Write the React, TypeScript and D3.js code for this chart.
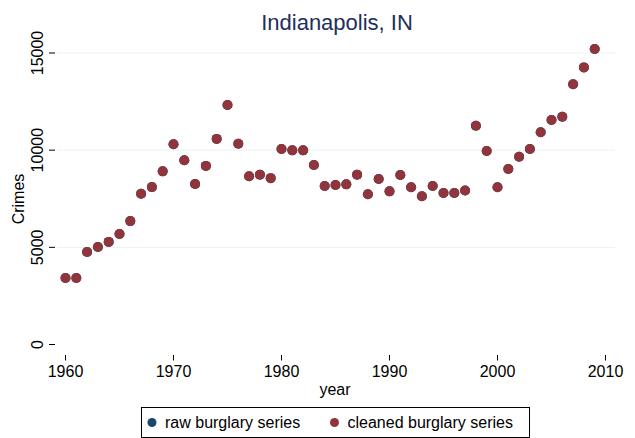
import * as React from 'react';
import {useEffect, useRef} from 'react';
import * as d3 from 'd3';

const years = d3.range(1960, 2010);
const cleanedBurglary = [
  3420, 3420, 4760, 5020, 5280, 5690, 6350, 7760, 8100, 8910,
  10300, 9480, 8260, 9190, 10580, 12320, 10330, 8660, 8740, 8560,
  10060, 9990, 9990, 9240, 8160, 8210, 8240, 8740, 7730, 8520,
  7880, 8720, 8090, 7630, 8160, 7800, 7800, 7920, 11260, 9960,
  8090, 9030, 9660, 10060, 10920, 11550, 11720, 13390, 14260, 15210
];
// raw series sits exactly under the cleaned one in this city
const rawBurglary = cleanedBurglary.slice();
const yTicks = [0, 5000, 10000, 15000];
const xTicks = [1960, 1970, 1980, 1990, 2000, 2010];
const legendLabels = ['raw burglary series', 'cleaned burglary series'];

const width = 635;
const height = 438;
const navy = '#1a476f';
const titleNavy = '#1f2f5c';
const maroon = '#90353b';
const font = '"Liberation Sans", Arial, sans-serif';

export default function App() {
  const ref = useRef<SVGSVGElement>(null);

  useEffect(() => {
    const svg = d3.select(ref.current);
    svg.selectAll('*').remove();

    const x = d3.scaleLinear().domain([1960, 2010]).range([65.5, 605.5]);
    const y = d3.scaleLinear().domain([0, 15000]).range([344.5, 53]);

    svg.append('rect').attr('width', width).attr('height', height).attr('fill', 'white');

    // gridlines
    svg.append('g')
      .selectAll('line')
      .data(yTicks.slice(1))
      .join('line')
      .attr('x1', 57).attr('x2', 615)
      .attr('y1', d => y(d)).attr('y2', d => y(d))
      .attr('stroke', '#eaf2f3')
      .attr('stroke-width', 1);

    // y axis ticks + labels
    const yAxis = svg.append('g');
    yAxis.selectAll('line')
      .data(yTicks)
      .join('line')
      .attr('x1', 49).attr('x2', 55)
      .attr('y1', d => y(d)).attr('y2', d => y(d))
      .attr('stroke', 'black');
    yAxis.selectAll('text')
      .data(yTicks)
      .join('text')
      .attr('transform', d => `translate(43,${y(d)}) rotate(-90)`)
      .attr('text-anchor', 'middle')
      .style('font', `16px ${font}`)
      .text(d => d);

    // x axis ticks + labels
    const xAxis = svg.append('g');
    xAxis.selectAll('line')
      .data(xTicks)
      .join('line')
      .attr('x1', d => x(d)).attr('x2', d => x(d))
      .attr('y1', 355).attr('y2', 360.5)
      .attr('stroke', 'black');
    xAxis.selectAll('text')
      .data(xTicks)
      .join('text')
      .attr('x', d => x(d)).attr('y', 377)
      .attr('text-anchor', 'middle')
      .style('font', `16px ${font}`)
      .text(d => d);

    svg.append('text')
      .attr('x', 335).attr('y', 395)
      .attr('text-anchor', 'middle')
      .style('font', `16px ${font}`)
      .text('year');

    svg.append('text')
      .attr('transform', 'translate(24,199) rotate(-90)')
      .attr('text-anchor', 'middle')
      .style('font', `16px ${font}`)
      .text('Crimes');

    svg.append('text')
      .attr('x', 337).attr('y', 30)
      .attr('text-anchor', 'middle')
      .attr('fill', titleNavy)
      .style('font', `22px ${font}`)
      .text('Indianapolis, IN');

    // points
    svg.append('g')
      .selectAll('circle')
      .data(rawBurglary)
      .join('circle')
      .attr('cx', (d, i) => x(years[i]))
      .attr('cy', d => y(d))
      .attr('r', 5)
      .attr('fill', navy);
    svg.append('g')
      .selectAll('circle')
      .data(cleanedBurglary)
      .join('circle')
      .attr('cx', (d, i) => x(years[i]))
      .attr('cy', d => y(d))
      .attr('r', 5)
      .attr('fill', maroon);

    // legend
    const legend = svg.append('g');
    legend.append('rect')
      .attr('x', 141.5).attr('y', 407.5)
      .attr('width', 388).attr('height', 30)
      .attr('fill', 'white')
      .attr('stroke', 'black');
    const items = legend.selectAll('g')
      .data(legendLabels)
      .join('g')
      .attr('transform', (d, i) => `translate(${i === 0 ? 152 : 334.5},422.5)`);
    items.append('circle')
      .attr('r', 4.5)
      .attr('fill', (d, i) => i === 0 ? navy : maroon);
    items.append('text')
      .attr('x', 13).attr('y', 5.5)
      .style('font', `16px ${font}`)
      .text(d => d);
  }, []);

  return (
    <svg ref={ref} width={width} height={height}
      style={{position: 'absolute', left: 0, top: 0, display: 'block'}}/>
  );
}
